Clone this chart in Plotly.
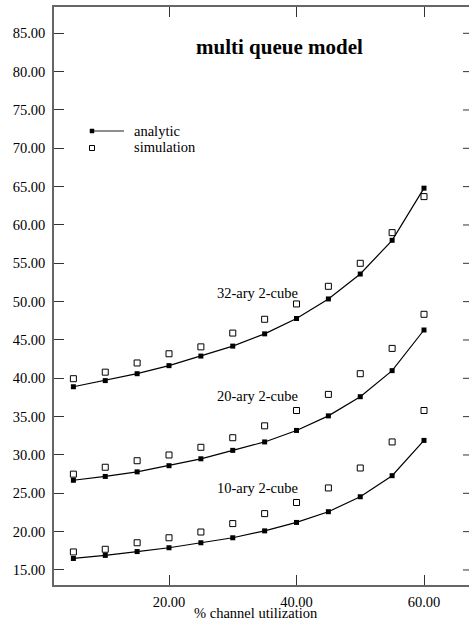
import plotly.graph_objects as go

util = [5, 10, 15, 20, 25, 30, 35, 40, 45, 50, 55, 60]

an_32 = [38.9, 39.7, 40.6, 41.65, 42.9, 44.2, 45.8, 47.8, 50.35, 53.6, 58.0, 64.8]
sim_32 = [39.95, 40.8, 42.0, 43.2, 44.1, 45.9, 47.7, 49.7, 52.0, 55.0, 59.0, 63.7]
an_20 = [26.7, 27.2, 27.8, 28.6, 29.5, 30.6, 31.7, 33.2, 35.1, 37.6, 41.0, 46.3]
sim_20 = [27.5, 28.4, 29.25, 30.0, 31.0, 32.25, 33.8, 35.8, 37.9, 40.6, 43.9, 48.35]
an_10 = [16.5, 16.9, 17.4, 17.9, 18.55, 19.2, 20.1, 21.2, 22.6, 24.55, 27.3, 31.9]
sim_10 = [17.35, 17.7, 18.55, 19.2, 19.95, 21.05, 22.35, 23.8, 25.7, 28.3, 31.7, 35.8]

curve_labels = ["32-ary 2-cube", "20-ary 2-cube", "10-ary 2-cube"]
label_y = [51.1, 37.7, 25.7]

x_ticks = [20, 40, 60]
y_ticks = [15, 20, 25, 30, 35, 40, 45, 50, 55, 60, 65, 70, 75, 80, 85]

FONT = "Liberation Serif, Times New Roman, serif"

fig = go.Figure()
for an, sim in [(an_32, sim_32), (an_20, sim_20), (an_10, sim_10)]:
    fig.add_trace(go.Scatter(x=util, y=an, mode="lines+markers",
                             line=dict(color="black", width=1.2),
                             marker=dict(symbol="square", size=5, color="black"),
                             showlegend=False, hoverinfo="skip"))
    fig.add_trace(go.Scatter(x=util, y=sim, mode="markers",
                             marker=dict(symbol="square-open", size=6, color="black",
                                         line=dict(width=1)),
                             showlegend=False, hoverinfo="skip"))

for txt, yv in zip(curve_labels, label_y):
    fig.add_annotation(x=27.2, y=yv, text=txt, showarrow=False, xanchor="left",
                       yanchor="middle", font=dict(family=FONT, size=14.5, color="black"))

# figure slightly wider than the 469px window: the right axis sits just off-screen
W, H = 475, 625
L, R, T, B = 54, 0, 7, 40
pw, ph = W - L - R, H - T - B


def px(x):
    return (x - L) / pw


def py(y):
    return (H - B - y) / ph


# right-hand tick marks (right axis line itself is off-screen in the reference)
for yt in y_ticks:
    fig.add_shape(type="line", xref="paper", yref="y", x0=1 - 12 / pw, x1=1, y0=yt, y1=yt,
                  line=dict(color="#333", width=1))

fig.add_annotation(x=px(279), y=py(47), xref="paper", yref="paper", text="<b>multi queue model</b>",
                   showarrow=False, xanchor="center", yanchor="middle",
                   font=dict(family=FONT, size=21, color="black"))
fig.add_annotation(x=px(256), y=py(613), xref="paper", yref="paper", text="% channel utilization",
                   showarrow=False, xanchor="center", yanchor="middle",
                   font=dict(family=FONT, size=14.5, color="black"))

# legend
fig.add_shape(type="line", xref="paper", yref="paper", x0=px(92), x1=px(124), y0=py(131), y1=py(131),
              line=dict(color="#444", width=1.2))
fig.add_shape(type="rect", xref="paper", yref="paper", x0=px(90), x1=px(94), y0=py(129), y1=py(133),
              fillcolor="black", line=dict(color="black", width=0.5))
fig.add_shape(type="rect", xref="paper", yref="paper", x0=px(89.5), x1=px(94.5), y0=py(145.5), y1=py(150.5),
              fillcolor="white", line=dict(color="black", width=1))
fig.add_annotation(x=px(132), y=py(131), xref="paper", yref="paper", text="analytic", showarrow=False,
                   xanchor="left", yanchor="middle", font=dict(family=FONT, size=14.5, color="black"))
fig.add_annotation(x=px(132), y=py(147), xref="paper", yref="paper", text="simulation", showarrow=False,
                   xanchor="left", yanchor="middle", font=dict(family=FONT, size=14.5, color="black"))

x_max = 1.96 + (W - L) / 6.375

fig.update_layout(
    width=W, height=H,
    margin=dict(l=L, r=R, t=T, b=B),
    paper_bgcolor="white", plot_bgcolor="white",
    font=dict(family=FONT, size=14.5, color="black"),
    xaxis=dict(range=[1.96, x_max], tickvals=x_ticks, ticktext=[f"{v:.2f}" for v in x_ticks],
               ticks="inside", ticklen=10, tickcolor="#333", tickwidth=1,
               showline=True, linecolor="#666", linewidth=1.5, mirror="ticks",
               showgrid=False, zeroline=False, tickfont=dict(family=FONT, size=14.5),
               ticklabelstandoff=3),
    yaxis=dict(range=[13.04, 88.43], tickvals=y_ticks, ticktext=[f"{v:.2f}" for v in y_ticks],
               ticks="inside", ticklen=10, tickcolor="#333", tickwidth=1,
               showline=True, linecolor="#666", linewidth=1.5,
               showgrid=False, zeroline=False, tickfont=dict(family=FONT, size=14.5),
               ticklabelstandoff=4),
)

fig.write_html("out.html", config={"displayModeBar": False},
               post_script="document.body.style.margin='0';document.body.style.overflow='hidden';")
